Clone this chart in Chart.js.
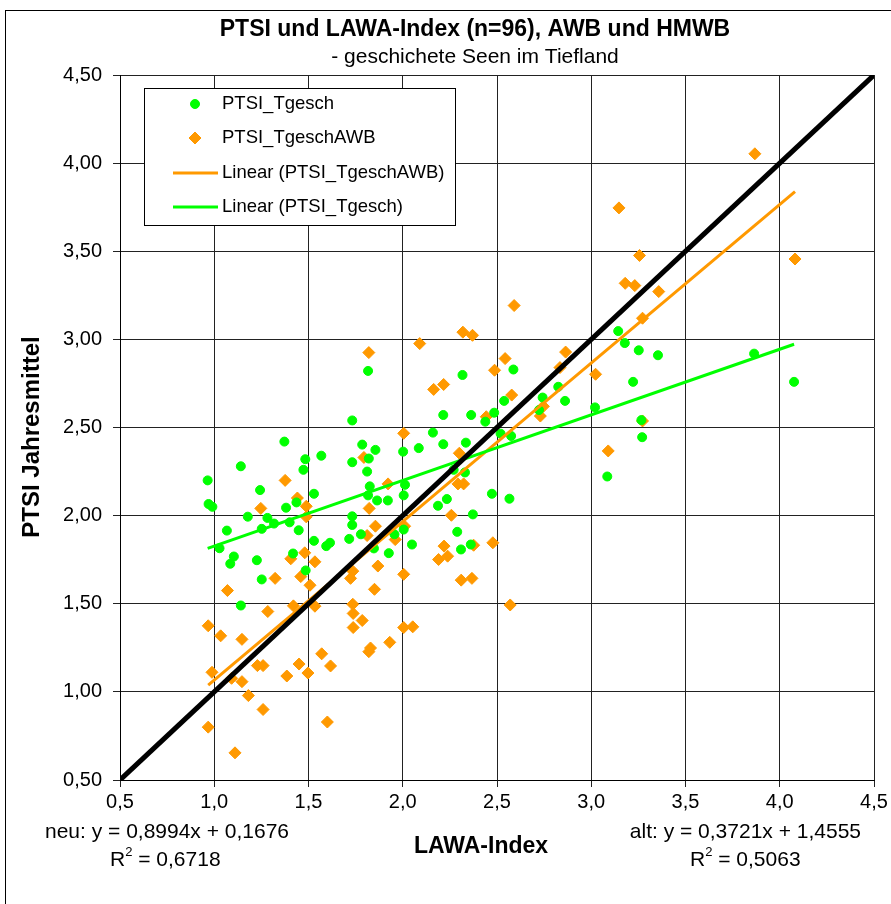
<!DOCTYPE html>
<html>
<head>
<meta charset="utf-8">
<script src="https://cdn.jsdelivr.net/npm/chart.js@4.4.1/dist/chart.umd.min.js"></script>
<style>
    body { margin: 0; background: #fff; }
    #wrap { width: 891px; height: 904px; }
</style>
</head>
<body>
<div id="wrap"><canvas id="ptsiChart" width="891" height="904"></canvas></div>
<script>
// PTSI_Tgesch (gruene Punkte): LAWA-Index / PTSI Jahresmittel
const tgeschX = [1.732, 1.372, 1.141, 0.965, 1.243, 0.970, 0.990, 1.483, 1.473, 1.568,
    1.529, 1.436, 1.381, 1.178, 1.282, 1.317, 1.252, 1.400, 1.448, 1.067,
    1.028, 1.104, 1.085, 1.226, 1.252, 1.418, 1.485, 1.529, 1.594, 1.614,
    1.716, 1.732, 1.732, 1.778, 1.847, 1.926, 1.956, 2.005, 1.785, 1.732,
    1.820, 1.855, 1.811, 1.825, 1.816, 1.864, 1.921, 2.002, 2.005, 2.049,
    1.141, 1.816, 2.317, 2.587, 2.538, 2.485, 2.438, 2.742, 2.723, 2.215,
    2.363, 2.160, 2.085, 2.215, 2.335, 2.519, 2.575, 2.270, 2.330, 2.473,
    2.566, 2.372, 2.289, 2.309, 2.361, 2.187, 2.234, 2.012, 3.143, 3.178,
    3.252, 3.354, 3.222, 2.825, 2.861, 3.020, 3.266, 3.270, 3.085, 3.864,
    4.076];
const tgeschY = [2.540, 2.420, 2.280, 2.200, 2.145, 2.066, 2.050, 2.320, 2.260, 2.340,
    2.124, 2.075, 2.045, 1.994, 1.987, 1.955, 1.925, 1.962, 1.917, 1.915,
    1.815, 1.768, 1.727, 1.747, 1.638, 1.785, 1.689, 1.857, 1.827, 1.846,
    1.868, 1.996, 1.947, 1.894, 1.814, 1.787, 1.894, 1.921, 2.403, 2.303,
    2.324, 2.373, 2.250, 2.166, 2.115, 2.086, 2.086, 2.363, 2.115, 1.836,
    1.490, 2.821, 2.798, 2.829, 2.651, 2.584, 2.533, 2.670, 2.599, 2.571,
    2.571, 2.471, 2.383, 2.405, 2.414, 2.465, 2.452, 2.260, 2.245, 2.124,
    2.096, 2.007, 1.908, 1.808, 1.836, 2.056, 2.094, 2.175, 3.047, 2.979,
    2.938, 2.910, 2.759, 2.731, 2.651, 2.614, 2.542, 2.445, 2.222, 2.919,
    2.759];

// PTSI_TgeschAWB (orange Rauten)
const awbX = [2.005, 1.794, 1.376, 1.922, 1.441, 1.488, 1.247, 1.488, 1.822, 1.855,
    2.010, 1.960, 1.811, 1.480, 1.406, 1.534, 1.459, 1.508, 1.323, 1.070,
    1.735, 1.723, 1.868, 1.850, 2.005, 0.968, 1.034, 1.147, 1.284, 1.420,
    1.534, 1.735, 1.737, 1.785, 1.737, 2.005, 1.931, 1.829, 1.820, 1.570,
    1.450, 1.497, 1.617, 1.385, 1.229, 1.259, 0.988, 1.092, 1.147, 1.181,
    1.259, 0.968, 1.600, 1.110, 2.591, 2.319, 2.370, 2.090, 1.820, 2.543,
    2.487, 2.217, 2.164, 2.578, 2.443, 2.730, 2.746, 2.300, 2.293, 2.323,
    2.258, 2.219, 2.190, 2.238, 2.376, 2.478, 2.310, 2.367, 2.570, 2.053,
    3.180, 3.231, 3.358, 3.272, 2.864, 2.834, 3.023, 3.272, 3.090, 3.868,
    3.147, 3.256, 4.081];
const awbY = [2.467, 2.330, 2.200, 2.180, 2.100, 2.053, 2.041, 1.993, 2.041, 1.940,
    1.940, 1.864, 1.887, 1.789, 1.755, 1.738, 1.654, 1.605, 1.644, 1.575,
    1.685, 1.644, 1.714, 1.582, 1.667, 1.375, 1.318, 1.298, 1.456, 1.488,
    1.486, 1.497, 1.445, 1.405, 1.365, 1.365, 1.281, 1.249, 1.228, 1.216,
    1.158, 1.107, 1.147, 1.090, 1.149, 1.149, 1.111, 1.077, 1.058, 0.979,
    0.900, 0.800, 0.829, 0.654, 3.192, 3.041, 3.023, 2.976, 2.925, 2.891,
    2.825, 2.744, 2.716, 2.684, 2.561, 2.565, 2.620, 2.354, 2.180, 2.180,
    2.002, 1.827, 1.751, 1.770, 1.832, 1.846, 1.634, 1.644, 1.493, 1.369,
    3.318, 3.305, 3.271, 3.120, 2.928, 2.840, 2.802, 2.537, 2.367, 4.053,
    3.746, 3.476, 3.456];

// Trendlinien aus Excel
const awbSlope = 0.8994, awbIntercept = 0.1676, awbR2 = '0,6718';
const tgeschSlope = 0.3721, tgeschIntercept = 1.4555, tgeschR2 = '0,5063';

const axisTicks = [0.5, 1.0, 1.5, 2.0, 2.5, 3.0, 3.5, 4.0, 4.5];
const xTickLabels = ['0,5', '1,0', '1,5', '2,0', '2,5', '3,0', '3,5', '4,0', '4,5'];
const yTickLabels = ['0,50', '1,00', '1,50', '2,00', '2,50', '3,00', '3,50', '4,00', '4,50'];

const GREEN = '#00FF00';
const ORANGE = '#FF9900';
const FONT = '"Liberation Sans", Arial, sans-serif';

function toPoints(xs, ys) {
    return xs.map((x, i) => ({ x: x, y: ys[i] }));
}

function trendPoints(xs, slope, intercept) {
    const lo = Math.min(...xs), hi = Math.max(...xs);
    return [{ x: lo, y: slope * lo + intercept }, { x: hi, y: slope * hi + intercept }];
}

function fmt(v) {
    return v.toFixed(4).replace('.', ',');
}

function drawR2(ctx, val, x, y) {
    ctx.textAlign = 'left';
    ctx.font = '21px ' + FONT;
    ctx.fillText('R', x, y);
    const w = ctx.measureText('R').width;
    ctx.font = '13px ' + FONT;
    ctx.fillText('2', x + w, y - 8);
    const w2 = ctx.measureText('2').width;
    ctx.font = '21px ' + FONT;
    ctx.fillText(' = ' + val, x + w + w2, y);
}

// Titel, Legende, Gleichungen und Rahmen
const decorPlugin = {
    id: 'decor',
    beforeDraw(chart) {
        const ctx = chart.ctx;
        ctx.save();
        ctx.fillStyle = '#fff';
        ctx.fillRect(0, 0, chart.width, chart.height);
        ctx.strokeStyle = '#000';
        ctx.lineWidth = 1;
        ctx.strokeRect(5.5, 10.5, chart.width + 10, chart.height + 10);
        ctx.restore();
    },
    afterDraw(chart) {
        const ctx = chart.ctx;
        const ds = chart.data.datasets;
        ctx.save();
        ctx.fillStyle = '#000';
        ctx.textAlign = 'center';
        ctx.textBaseline = 'middle';

        ctx.font = 'bold 23px ' + FONT;
        ctx.fillText('PTSI und LAWA-Index (n=96), AWB und HMWB', 475, 30);
        ctx.font = '21px ' + FONT;
        ctx.fillText('- geschichete Seen im Tiefland', 475, 57);

        ctx.font = 'bold 23px ' + FONT;
        ctx.fillText('LAWA-Index', 481, 847);
        ctx.save();
        ctx.translate(32, 437);
        ctx.rotate(-Math.PI / 2);
        ctx.font = 'bold 24px ' + FONT;
        ctx.fillText('PTSI Jahresmittel', 0, 0);
        ctx.restore();

        // Gleichungen
        ctx.font = '21px ' + FONT;
        ctx.textAlign = 'left';
        ctx.fillText('neu: y = ' + fmt(awbSlope) + 'x + ' + fmt(awbIntercept), 45, 832);
        ctx.textAlign = 'right';
        ctx.fillText('alt: y = ' + fmt(tgeschSlope) + 'x + ' + fmt(tgeschIntercept), 861, 832);
        drawR2(ctx, awbR2, 110, 860);
        drawR2(ctx, tgeschR2, 690, 860);

        // Legende
        const lx = 144, ly = 88, lw = 311, lh = 137;
        ctx.fillStyle = '#fff';
        ctx.fillRect(lx, ly, lw, lh);
        ctx.strokeStyle = '#000';
        ctx.lineWidth = 1;
        ctx.strokeRect(lx + 0.5, ly + 0.5, lw, lh);

        const items = [ds[0], ds[1], ds[2], ds[3]];
        const rowY = [104, 138, 173, 207];
        ctx.font = '18.5px ' + FONT;
        ctx.textAlign = 'left';
        items.forEach((d, i) => {
            const y = rowY[i];
            if (d.showLine) {
                ctx.strokeStyle = d.borderColor;
                ctx.lineWidth = d.borderWidth;
                ctx.beginPath();
                ctx.moveTo(173, y);
                ctx.lineTo(218, y);
                ctx.stroke();
            } else {
                ctx.fillStyle = d.backgroundColor;
                ctx.strokeStyle = d.borderColor;
                ctx.lineWidth = 1;
                ctx.beginPath();
                if (d.pointStyle === 'circle') {
                    ctx.arc(195, y, d.pointRadius, 0, Math.PI * 2);
                } else {
                    const r = d.pointRadius;
                    ctx.moveTo(195 - r, y);
                    ctx.lineTo(195, y - r);
                    ctx.lineTo(195 + r, y);
                    ctx.lineTo(195, y + r);
                    ctx.closePath();
                }
                ctx.fill();
                ctx.stroke();
            }
            ctx.fillStyle = '#000';
            ctx.fillText(d.label, 222, y);
        });
        ctx.restore();
    }
};

const ctx = document.getElementById('ptsiChart').getContext('2d');
new Chart(ctx, {
    type: 'scatter',
    data: {
        datasets: [
            {
                label: 'PTSI_Tgesch',
                data: toPoints(tgeschX, tgeschY),
                pointStyle: 'circle',
                pointRadius: 4.5,
                backgroundColor: GREEN,
                borderColor: GREEN,
                borderWidth: 1,
                order: 3
            },
            {
                label: 'PTSI_TgeschAWB',
                data: toPoints(awbX, awbY),
                pointStyle: 'rectRot',
                pointRadius: 6,
                backgroundColor: ORANGE,
                borderColor: ORANGE,
                borderWidth: 1,
                order: 4
            },
            {
                label: 'Linear (PTSI_TgeschAWB)',
                data: trendPoints(awbX, awbSlope, awbIntercept),
                showLine: true,
                pointRadius: 0,
                borderColor: ORANGE,
                backgroundColor: ORANGE,
                borderWidth: 3,
                order: 2
            },
            {
                label: 'Linear (PTSI_Tgesch)',
                data: trendPoints(tgeschX, tgeschSlope, tgeschIntercept),
                showLine: true,
                pointRadius: 0,
                borderColor: GREEN,
                backgroundColor: GREEN,
                borderWidth: 3,
                order: 1
            },
            {
                label: '1:1',
                data: [{ x: axisTicks[0], y: axisTicks[0] }, { x: axisTicks[8], y: axisTicks[8] }],
                showLine: true,
                pointRadius: 0,
                borderColor: '#000',
                borderWidth: 5,
                order: 0
            }
        ]
    },
    options: {
        responsive: false,
        animation: false,
        layout: {
            padding: { top: 75, right: 17, left: 0, bottom: 0 }
        },
        plugins: {
            legend: { display: false },
            tooltip: { enabled: false }
        },
        scales: {
            x: {
                type: 'linear',
                min: 0.5,
                max: 4.5,
                afterFit: function(scale) { scale.height = 124; },
                afterBuildTicks: function(scale) {
                    scale.ticks = axisTicks.map(v => ({ value: v }));
                },
                ticks: {
                    autoSkip: false,
                    maxRotation: 0,
                    padding: 3,
                    color: '#000',
                    font: { family: FONT, size: 20 },
                    callback: function(value) {
                        return xTickLabels[axisTicks.indexOf(value)];
                    }
                },
                grid: { color: '#222', tickLength: 7 },
                border: { color: '#000' }
            },
            y: {
                type: 'linear',
                min: 0.5,
                max: 4.5,
                afterFit: function(scale) { scale.width = 120; },
                afterBuildTicks: function(scale) {
                    scale.ticks = axisTicks.map(v => ({ value: v }));
                },
                ticks: {
                    autoSkip: false,
                    padding: 11,
                    color: '#000',
                    font: { family: FONT, size: 20 },
                    callback: function(value) {
                        return yTickLabels[axisTicks.indexOf(value)];
                    }
                },
                grid: { color: '#222', tickLength: 7 },
                border: { color: '#000' }
            }
        }
    },
    plugins: [decorPlugin]
});
</script>
</body>
</html>
